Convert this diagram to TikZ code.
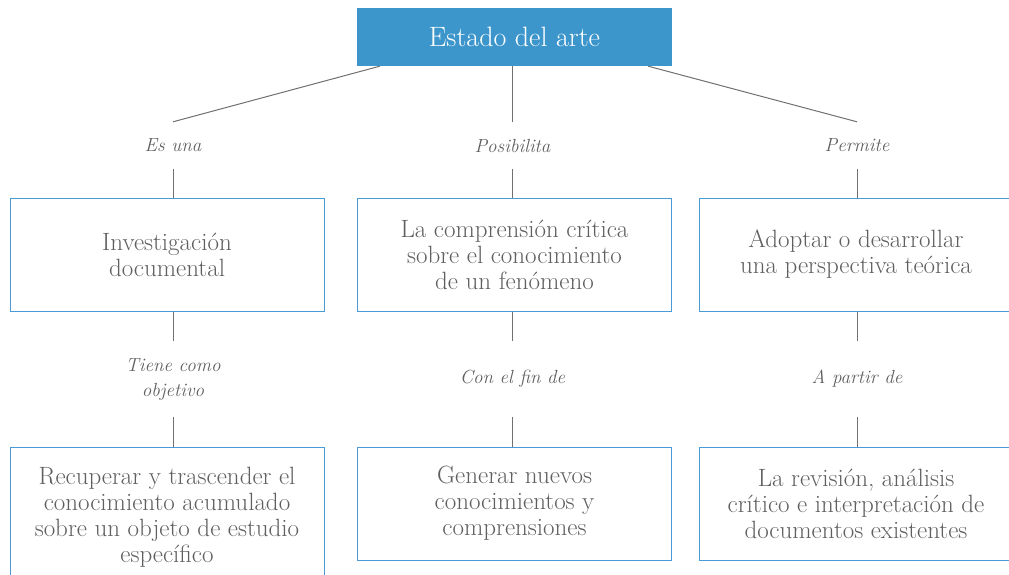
\documentclass[tikz,border=0pt]{standalone}
\usepackage{tikz}
\definecolor{titleblue}{HTML}{3D96CB}
\definecolor{boxblue}{HTML}{4A9BD5}
\definecolor{textgray}{HTML}{5F5F5F}
\definecolor{linegray}{HTML}{707070}
\begin{document}
\begin{tikzpicture}[x=1pt, y=-1pt,
    title/.style={fill=titleblue, text=white, minimum width=315pt, minimum height=58pt, inner sep=0pt, font=\fontsize{28}{30}\selectfont},
    box/.style={draw=boxblue, line width=1pt, text=textgray, align=center, minimum width=314pt, minimum height=113pt, inner sep=0pt, font=\fontsize{25}{26}\selectfont},
    lab/.style={text=textgray, align=center, inner sep=0pt, font=\fontsize{19}{25}\selectfont\itshape},
    link/.style={draw=linegray, line width=1pt}]
    \useasboundingbox (0, 0) rectangle (1009, 574);
    \node[title] (estado) at (514.5, 37) {Estado del arte};
    \node[lab, minimum height=47pt] (esuna) at (173, 145.5) {Es una};
    \node[lab, minimum height=47pt] (posibilita) at (512.5, 145.5) {Posibilita};
    \node[lab, minimum height=47pt] (permite) at (857, 145.5) {Permite};
    \node[box] (investigacion) at (167, 254.5) {Investigación\\documental};
    \node[box] (comprension) at (514.5, 254.5) {La comprensión crítica\\sobre el conocimiento\\de un fenómeno};
    \node[box] (adoptar) at (856, 254.5) {Adoptar o desarrollar\\una perspectiva teórica};
    \node[lab, minimum height=76pt] (tiene) at (173, 379) {Tiene como\\objetivo};
    \node[lab, minimum height=76pt] (confin) at (512.5, 379) {Con el fin de};
    \node[lab, minimum height=76pt] (apartir) at (857, 379) {A partir de};
    \node[box, minimum height=140pt] (recuperar) at (167, 517) {Recuperar y trascender el\\conocimiento acumulado\\sobre un objeto de estudio\\específico};
    \node[box] (generar) at (514.5, 503.5) {Generar nuevos\\conocimientos y\\comprensiones};
    \node[box] (revision) at (856, 503.5) {La revisión, análisis\\crítico e interpretación de\\documentos existentes};
    \draw[link] ([xshift=23pt]estado.south west) -- (esuna.north);
    \draw[link] (estado.south -| posibilita) -- (posibilita.north);
    \draw[link] ([xshift=-24pt]estado.south east) -- (permite.north);
    \draw[link] (esuna.south) -- (esuna.south |- investigacion.north);
    \draw[link] (posibilita.south) -- (posibilita.south |- comprension.north);
    \draw[link] (permite.south) -- (permite.south |- adoptar.north);
    \draw[link] (investigacion.south -| tiene) -- (tiene.north);
    \draw[link] (comprension.south -| confin) -- (confin.north);
    \draw[link] (adoptar.south -| apartir) -- (apartir.north);
    \draw[link] (tiene.south) -- (tiene.south |- recuperar.north);
    \draw[link] (confin.south) -- (confin.south |- generar.north);
    \draw[link] (apartir.south) -- (apartir.south |- revision.north);
\end{tikzpicture}
\end{document}
